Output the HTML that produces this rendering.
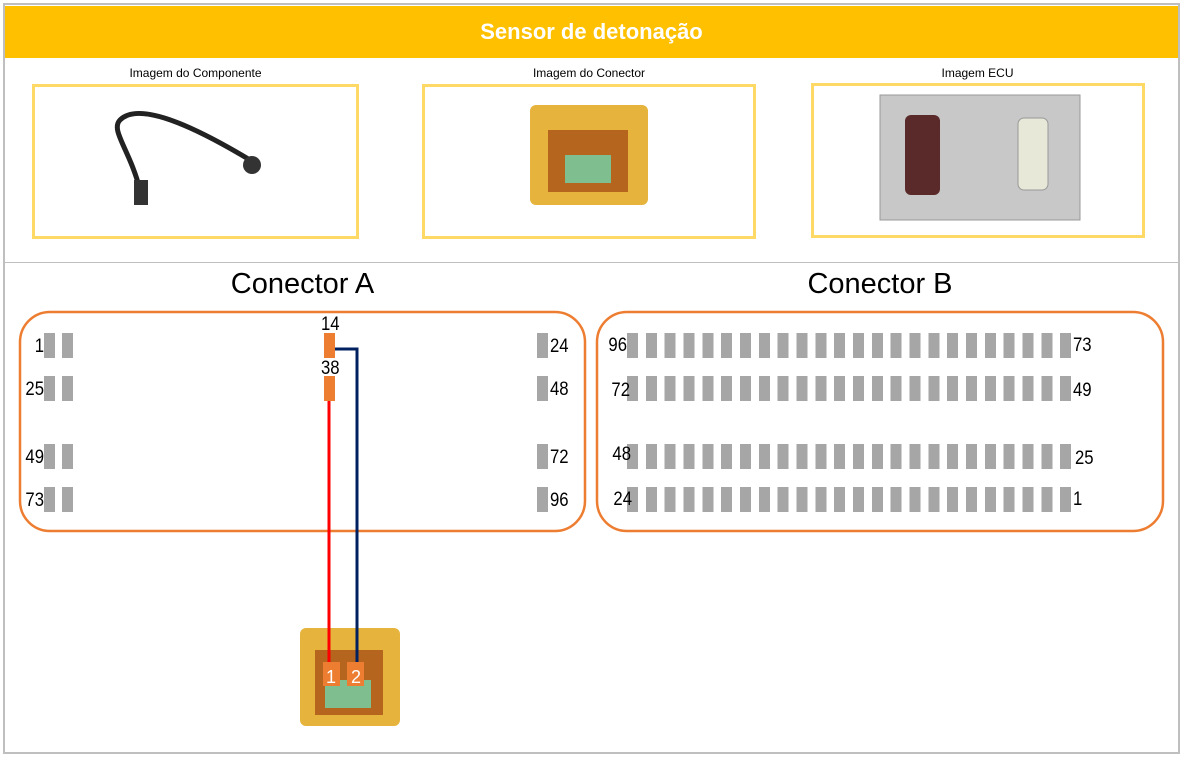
<!DOCTYPE html>
<html><head><meta charset="utf-8"><style>
body{margin:0;width:1186px;height:761px;background:#fff;position:relative;overflow:hidden;font-family:"Liberation Sans",sans-serif}
.a{position:absolute}
.p{position:absolute;background:#a6a6a6;width:11px;height:25px}
.n{position:absolute;font-size:19px;color:#000;font-family:"Liberation Sans Narrow","Liberation Sans",sans-serif;transform:scaleX(0.88);transform-origin:left top}
.r{position:absolute;font-size:19px;color:#000;text-align:right;width:40px;transform:scaleX(0.88);transform-origin:right top}
.cap{position:absolute;font-size:12px;color:#000;text-align:center}
.yb{position:absolute;border:3px solid #ffd966;box-sizing:border-box}
.row{position:absolute;left:627px;height:25px;width:444px;background:repeating-linear-gradient(90deg,#a6a6a6 0 11px,transparent 11px 18.83px)}
</style></head><body>
<div class="a" style="left:3px;top:3px;width:1177px;height:751px;border:2px solid #bfbfbf;box-sizing:border-box"></div>
<div class="a" style="left:5px;top:6px;width:1173px;height:52px;background:#ffc000;color:#fff;font-weight:bold;font-size:22px;text-align:center;line-height:52px">Sensor de detonação</div>
<div class="a" style="left:5px;top:262px;width:1173px;height:1px;background:#bfbfbf"></div>
<div class="cap" style="left:33px;width:325px;top:66px">Imagem do Componente</div>
<div class="cap" style="left:423px;width:332px;top:66px">Imagem do Conector</div>
<div class="cap" style="left:812px;width:331px;top:66px">Imagem ECU</div>
<div class="yb" style="left:32px;top:84px;width:327px;height:155px"></div>
<div class="yb" style="left:422px;top:84px;width:334px;height:155px"></div>
<div class="yb" style="left:811px;top:83px;width:334px;height:155px"></div>
<svg class="a" style="left:0;top:0" width="1186" height="761">
<path d="M140 190 C130 150,110 130,120 120 C140 100,200 130,250 160" stroke="#222" stroke-width="5" fill="none"/>
<circle cx="252" cy="165" r="9" fill="#333"/><rect x="134" y="180" width="14" height="25" fill="#333"/>
<rect x="530" y="105" width="118" height="100" rx="6" fill="#e6b43c"/><rect x="548" y="130" width="80" height="62" fill="#b5651d"/><rect x="565" y="155" width="46" height="28" fill="#7fbf8f"/>
<rect x="880" y="95" width="200" height="125" fill="#c8c8c8" stroke="#999"/><rect x="905" y="115" width="35" height="80" rx="6" fill="#5a2a2a"/><rect x="1018" y="118" width="30" height="72" rx="6" fill="#e8e8d8" stroke="#999"/>
<rect x="300" y="628" width="100" height="98" rx="6" fill="#e6b43c"/><rect x="315" y="650" width="68" height="65" fill="#b5651d"/><rect x="325" y="680" width="46" height="28" fill="#7fbf8f"/>
<rect x="20" y="312" width="565" height="219" rx="30" fill="none" stroke="#ed7d31" stroke-width="2.5"/>
<rect x="597" y="312" width="566" height="219" rx="30" fill="none" stroke="#ed7d31" stroke-width="2.5"/>
<line x1="329" y1="401" x2="329" y2="680" stroke="#ff0000" stroke-width="3"/>
<polyline points="334,349 357,349 357,680" stroke="#002060" stroke-width="3" fill="none"/>
<rect x="323" y="662" width="17" height="24" fill="#ed7d31"/><rect x="347" y="662" width="17" height="24" fill="#ed7d31"/>
<text x="331" y="683" fill="#fff" font-size="18" text-anchor="middle" font-family="Liberation Sans">1</text>
<text x="356" y="683" fill="#fff" font-size="18" text-anchor="middle" font-family="Liberation Sans">2</text>
</svg>
<div class="a" style="left:20px;width:565px;top:268px;text-align:center;font-size:29px">Conector A</div>
<div class="a" style="left:597px;width:566px;top:268px;text-align:center;font-size:29px">Conector B</div>
<div class="p" style="left:44px;top:333px"></div><div class="p" style="left:62px;top:333px"></div>
<div class="p" style="left:44px;top:376px"></div><div class="p" style="left:62px;top:376px"></div>
<div class="p" style="left:44px;top:444px"></div><div class="p" style="left:62px;top:444px"></div>
<div class="p" style="left:44px;top:487px"></div><div class="p" style="left:62px;top:487px"></div>
<div class="p" style="left:537px;top:333px"></div><div class="p" style="left:537px;top:376px"></div>
<div class="p" style="left:537px;top:444px"></div><div class="p" style="left:537px;top:487px"></div>
<div class="p" style="left:324px;top:333px;background:#ed7d31"></div><div class="p" style="left:324px;top:376px;background:#ed7d31"></div>
<div class="r" style="left:4px;top:336px">1</div><div class="r" style="left:4px;top:379px">25</div>
<div class="r" style="left:4px;top:447px">49</div><div class="r" style="left:4px;top:490px">73</div>
<div class="n" style="left:550px;top:336px">24</div><div class="n" style="left:550px;top:379px">48</div>
<div class="n" style="left:550px;top:447px">72</div><div class="n" style="left:550px;top:490px">96</div>
<div class="n" style="left:321px;top:314px">14</div><div class="n" style="left:321px;top:358px">38</div>
<div class="row" style="top:333px"></div>
<div class="row" style="top:376px"></div>
<div class="row" style="top:444px"></div>
<div class="row" style="top:487px"></div>
<div class="r" style="left:587px;top:335px">96</div><div class="r" style="left:590px;top:380px">72</div>
<div class="r" style="left:591px;top:444px">48</div><div class="r" style="left:592px;top:489px">24</div>
<div class="n" style="left:1073px;top:335px">73</div><div class="n" style="left:1073px;top:380px">49</div>
<div class="n" style="left:1075px;top:448px">25</div><div class="n" style="left:1073px;top:489px">1</div>
</body></html>
